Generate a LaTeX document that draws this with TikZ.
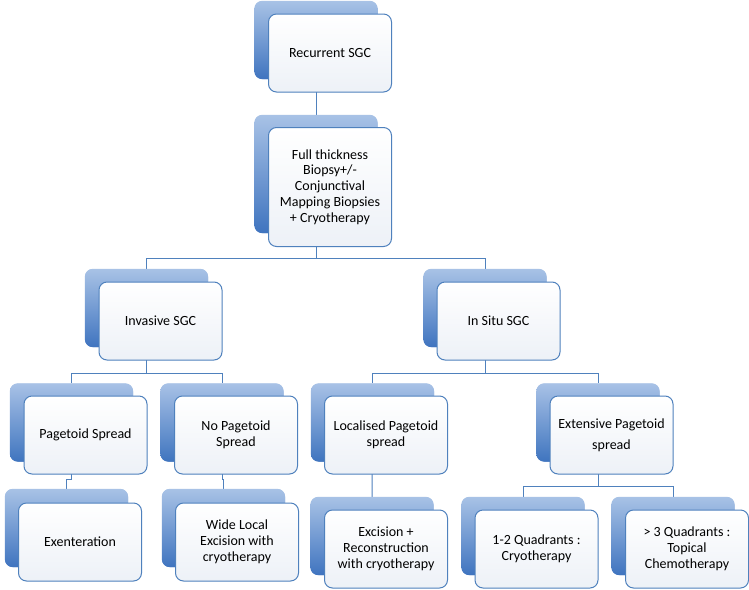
\documentclass[tikz,border=0pt]{standalone}
\usepackage{fontspec}
\setmainfont{Carlito}
\usetikzlibrary{positioning}

\begin{document}
\begin{tikzpicture}[x=1pt,y=-1pt]
  % Management tree for recurrent SGC: each step is a pale card laid over
  % a shaded blue card, joined by elbow connectors.
  \definecolor{cardblue}{HTML}{4F81BD}
  \definecolor{shadetop}{HTML}{A8C2E6}
  \definecolor{shadebot}{HTML}{3F74BF}
  \definecolor{cardface}{HTML}{EDF1F7}
  \useasboundingbox (0,0) rectangle (749,589);
  \fill[white] (0,0) rectangle (749,589);

  \tikzset{backcard/.style={rectangle,rounded corners=8pt,minimum width=123pt,minimum height=78pt,
                            top color=shadetop,bottom color=shadebot,inner sep=0pt},
            facecard/.style={rectangle,rounded corners=8pt,minimum width=123pt,minimum height=78pt,
                            draw=cardblue,line width=1pt,top color=white,bottom color=cardface,
                            align=center,inner sep=2pt,font=\fontsize{14}{15.8}\selectfont},
            link/.style={draw=cardblue,line width=1pt}}

  % rails for the horizontal runs
  \coordinate (bar1) at (0,258);
  \coordinate (bar2) at (0,373);
  \coordinate (bar3) at (0,486);
  \coordinate (jog) at (0,479);

  % shaded cards (behind)
  \node[backcard] (rec-b) at (316,40) {};
  \node[backcard,minimum height=118pt] (bio-b) at (316,174) {};
  \node[backcard] (inv-b) at (146.5,308) {};
  \node[backcard] (ins-b) at (485,308) {};
  \node[backcard] (pag-b) at (71.5,422.5) {};
  \node[backcard] (nop-b) at (222,422.5) {};
  \node[backcard] (loc-b) at (372.5,422.5) {};
  \node[backcard] (ext-b) at (598,422.5) {};
  \node[backcard] (exe-b) at (66.5,528) {};
  \node[backcard] (wle-b) at (223.5,528) {};
  \node[backcard] (exr-b) at (372,536) {};
  \node[backcard] (q12-b) at (523,536) {};
  \node[backcard] (q3-b) at (673,536) {};

  % connectors
  \draw[link] (rec-b.center) -- (bio-b.north);
  \draw[link] (bio-b.center) -- (bio-b.center |- bar1) -| (inv-b.north);
  \draw[link] (bio-b.center) -- (bio-b.center |- bar1) -| (ins-b.north);
  \draw[link] (inv-b.center) -- (inv-b.center |- bar2) -| (pag-b.north);
  \draw[link] (inv-b.center) -- (inv-b.center |- bar2) -| (nop-b.north);
  \draw[link] (ins-b.center) -- (ins-b.center |- bar2) -| (loc-b.north);
  \draw[link] (ins-b.center) -- (ins-b.center |- bar2) -| (ext-b.north);
  \draw[link] (pag-b.center) -- (pag-b.center |- jog) -| (exe-b.north);
  \draw[link] (nop-b.center) -- (nop-b.center |- jog) -| (wle-b.north);
  \draw[link] (loc-b.center) -- (exr-b.north);
  \draw[link] (ext-b.center) -- (ext-b.center |- bar3) -| (q12-b.north);
  \draw[link] (ext-b.center) -- (ext-b.center |- bar3) -| (q3-b.north);

  % redraw shaded cards over the connector stems
  \foreach \card in {rec,bio,inv,ins,pag,nop,loc,ext,exe,wle,exr,q12,q3}
    \shade[top color=shadetop,bottom color=shadebot,rounded corners=8pt]
      (\card-b.south west) rectangle (\card-b.north east);

  % pale cards (front)
  \node[facecard] (rec) at (330,53) {Recurrent SGC};
  \node[facecard,minimum height=119pt] (bio) at (330,187) {Full thickness\\Biopsy+/-\\Conjunctival\\Mapping Biopsies\\+ Cryotherapy};
  \node[facecard] (inv) at (160.5,321) {Invasive SGC};
  \node[facecard] (ins) at (498.5,321) {In Situ SGC};
  \node[facecard] (pag) at (85.5,435) {Pagetoid Spread};
  \node[facecard] (nop) at (236,435) {No Pagetoid\\Spread};
  \node[facecard] (loc) at (386,435) {Localised Pagetoid\\spread};
  \node[facecard,font=\fontsize{14}{21}\selectfont] (ext) at (611.5,435) {Extensive Pagetoid\\spread};
  \node[facecard] (exe) at (80,542) {Exenteration};
  \node[facecard] (wle) at (237,542) {Wide Local\\Excision with\\cryotherapy};
  \node[facecard] (exr) at (386,549) {Excision +\\Reconstruction\\with cryotherapy};
  \node[facecard] (q12) at (536.5,549) {1-2 Quadrants :\\Cryotherapy};
  \node[facecard] (q3) at (687,549) {> 3 Quadrants :\\Topical\\Chemotherapy};
\end{tikzpicture}
\end{document}
